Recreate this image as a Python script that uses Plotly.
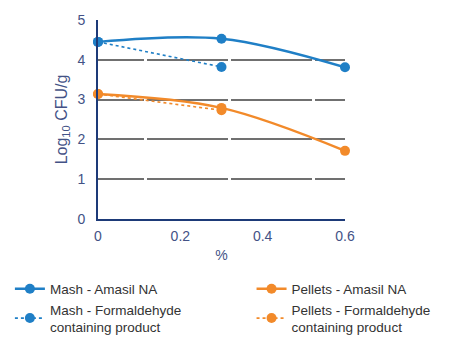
import plotly.graph_objects as go

x_vals = [0, 0.3, 0.6]
x_form = [0, 0.3]
mash_amasil = [4.45, 4.53, 3.81]
mash_form = [4.45, 3.82]
pellets_amasil = [3.14, 2.79, 1.71]
pellets_form = [3.14, 2.73]

blue = "#1f7fc6"
orange = "#f28a2a"
navy = "#1d3a78"
tickc = "#435286"

fig = go.Figure()
fig.add_trace(go.Scatter(x=x_vals, y=mash_amasil, name="Mash - Amasil NA", mode="lines+markers",
                         line=dict(color=blue, width=2.4, shape="spline"), marker=dict(size=10, color=blue),
                         cliponaxis=False, legend="legend"))
fig.add_trace(go.Scatter(x=x_form, y=mash_form, name="Mash - Formaldehyde<br>containing product", mode="lines+markers",
                         line=dict(color=blue, width=1.6, dash="dot"), marker=dict(size=10, color=blue),
                         cliponaxis=False, legend="legend"))
fig.add_trace(go.Scatter(x=x_vals, y=pellets_amasil, name="Pellets - Amasil NA", mode="lines+markers",
                         line=dict(color=orange, width=2.4, shape="spline"), marker=dict(size=10, color=orange),
                         cliponaxis=False, legend="legend2"))
fig.add_trace(go.Scatter(x=x_form, y=pellets_form, name="Pellets - Formaldehyde<br>containing product", mode="lines+markers",
                         line=dict(color=orange, width=1.6, dash="dot"), marker=dict(size=10, color=orange),
                         cliponaxis=False, legend="legend2"))

leg_common = dict(orientation="h", xref="container", yref="container", xanchor="left",
                  y=0.205, yanchor="top", font=dict(size=13.5, color="#333333"),
                  entrywidth=200, entrywidthmode="pixels",
                  tracegroupgap=0, itemwidth=30, bgcolor="rgba(0,0,0,0)")

fig.update_layout(
    width=450, height=344,
    margin=dict(l=98, r=105, t=16, b=124),
    paper_bgcolor="white", plot_bgcolor="white",
    font=dict(family="Liberation Sans, Arial, sans-serif", size=12, color=tickc),
    showlegend=True,
    legend=dict(x=0.022, **leg_common),
    legend2=dict(x=0.559, **leg_common),
    xaxis=dict(range=[0, 0.6], tickvals=[0, 0.2, 0.4, 0.6], ticktext=["0", "0.2", "0.4", "0.6"],
               showgrid=False, zeroline=False, showline=True, linecolor=navy, linewidth=2,
               ticks="", ticklen=0, ticklabelstandoff=3, tickfont=dict(size=14, color=tickc),
               title=dict(text="%", font=dict(size=14, color=tickc), standoff=8)),
    yaxis=dict(range=[0, 5], tickvals=[0, 1, 2, 3, 4, 5], showgrid=True, gridcolor="#707070", gridwidth=1.8,
               griddash="46px,3px,81px,3px,81px,3px,200px",
               zeroline=False, showline=True, linecolor=navy, linewidth=2,
               ticks="", ticklabelstandoff=8, tickfont=dict(size=14, color=tickc),
               title=dict(text="Log<sub>10</sub> CFU/g", font=dict(size=16, color=tickc), standoff=6)),
)

fig.write_html("out.html")
